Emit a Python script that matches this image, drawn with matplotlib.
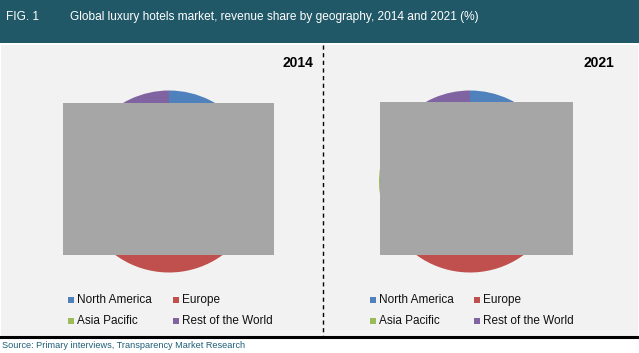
import matplotlib
matplotlib.use("Agg")
import matplotlib.pyplot as plt
from matplotlib.patches import Rectangle

# data (pie slices are mostly hidden behind grey boxes in the original)
categories = ["North America", "Europe", "Asia Pacific", "Rest of the World"]
colors = ["#4f81bd", "#c0504d", "#9bbb59", "#8064a2"]
years = ["2014", "2021"]
share_2014 = [30, 36, 20, 14]
share_2021 = [28, 34, 25, 13]
shares = [share_2014, share_2021]

title = "Global luxury hotels market, revenue share by geography, 2014 and 2021 (%)"
source = "Source: Primary interviews, Transparency Market Research"

W, H = 639, 353
TEAL = "#215867"
sans = ["Liberation Sans", "DejaVu Sans"]

fig = plt.figure(figsize=(W / 100, H / 100), dpi=100)
fig.patch.set_facecolor("white")

# background axes in pixel coordinates
bg = fig.add_axes([0, 0, 1, 1], zorder=0)
bg.set_xlim(0, W)
bg.set_ylim(H, 0)
bg.axis("off")

bg.add_patch(Rectangle((0, 0), W, 43, facecolor=TEAL, edgecolor="none"))
bg.add_patch(Rectangle((1, 45), W - 2, 291, facecolor="#f2f2f2", edgecolor="none"))
bg.plot([0, W], [337, 337], color="black", lw=2.2)
bg.plot([323, 323], [45, 336], color="black", lw=1, ls=(0, (3, 2.5)))

bg.text(6, 17, "FIG. 1", color="white", fontsize=8.6, family=sans, va="center")
bg.text(70, 17, title, color="white", fontsize=8.6, family=sans, va="center")
bg.text(2, 345, source, color="#1f5f78", fontsize=6.6, family=sans, va="center")

# pies
centers = [(169, 181.5), (470, 181.5)]
R = 91
year_right = [313, 614]
for (cx, cy), vals, yr, xr in zip(centers, shares, years, year_right):
    ax = fig.add_axes([(cx - R) / W, 1 - (cy + R) / H, 2 * R / W, 2 * R / H], zorder=1)
    ax.pie(vals, colors=colors, startangle=90, counterclock=False,
           wedgeprops=dict(linewidth=0))
    ax.set_xlim(-1, 1)
    ax.set_ylim(-1, 1)
    ax.set_aspect("auto")
    ax.axis("off")
    bg.text(xr, 63, yr, fontsize=10, fontweight="bold", family=sans,
            ha="right", va="center")

# legends
legend_x = [(68, 173), (370, 474)]
legend_y = [300, 321]
for cols in legend_x:
    for i, (cat, col) in enumerate(zip(categories, colors)):
        x = cols[i % 2]
        y = legend_y[i // 2]
        bg.add_patch(Rectangle((x, y - 3), 6, 6, facecolor=col, edgecolor="none"))
        bg.text(x + 9, y, cat, fontsize=8.5, family=sans, va="center", color="#111111")

# grey boxes covering the pies
ov = fig.add_axes([0, 0, 1, 1], zorder=2)
ov.set_xlim(0, W)
ov.set_ylim(H, 0)
ov.axis("off")
ov.patch.set_alpha(0)
ov.add_patch(Rectangle((63, 103), 211, 152, facecolor="#a6a6a6", edgecolor="none"))
ov.add_patch(Rectangle((380, 102), 193, 153, facecolor="#a6a6a6", edgecolor="none"))

fig.savefig("out.png", dpi=100)
